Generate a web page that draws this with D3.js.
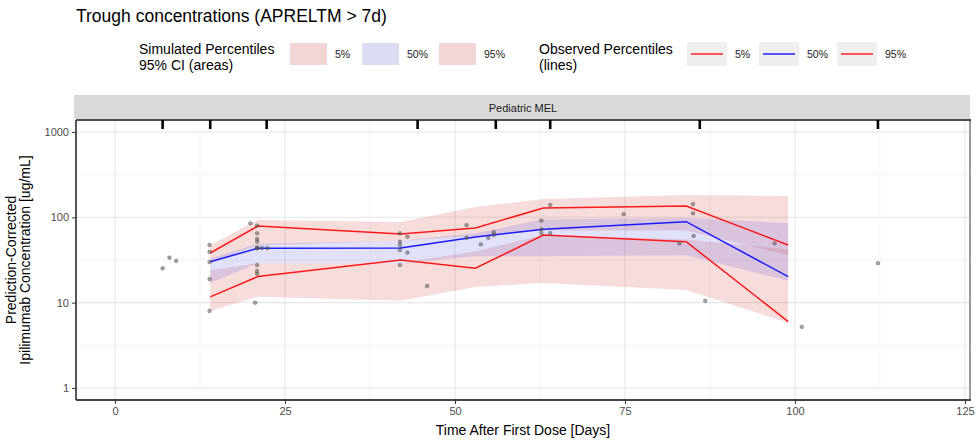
<!DOCTYPE html>
<html><head><meta charset="utf-8">
<script src="https://cdn.jsdelivr.net/npm/d3@7"></script>
<style>
body{margin:0;background:#fff;}
svg{display:block;font-family:"Liberation Sans",Arial,Helvetica,sans-serif;}
</style>
</head><body>
<svg id="c" width="979" height="442"></svg>
<script>
// ---------------- data ----------------
const binTime = [14, 21, 42, 53, 63, 84, 99];
const obsP05 = [11.7, 20.2, 31.6, 25.3, 62.1, 51.8, 6.0];
const obsP50 = [30.2, 43.4, 43.6, 58.9, 72.4, 88.9, 20.2];
const obsP95 = [38.2, 79, 63.8, 75, 128.6, 136, 47.4];

const sim05Lo = [8.0, 11.7, 10.5, 15.3, 17, 14.1, 5.8];
const sim05Hi = [24, 29, 29, 40, 62, 55, 42];
const sim50Lo = [17, 29, 29, 35, 35, 36, 18];
const sim50Hi = [33, 49, 53, 65, 95, 98, 86];
const sim95Lo = [30, 47, 53, 60, 70, 70, 36];
const sim95Hi = [47, 93, 88, 132, 164, 183, 178];

const obsTime = [7.0, 8.0, 9.0,
  13.9, 13.9, 13.9, 13.9, 13.9,
  19.9, 20.9, 20.9, 20.9, 20.9, 20.9, 20.9, 20.9, 21.6, 22.4, 20.9, 20.9, 20.9, 20.6,
  41.9, 43.0, 41.9, 41.9, 41.9, 43.0, 41.9, 45.9,
  51.7, 51.7, 53.8, 54.9, 55.7, 55.7,
  64.0, 62.7, 62.7, 62.7, 64.0,
  74.8,
  85.0, 85.0, 83.0, 85.1, 86.8,
  97.0, 101.0, 112.2];
const obsConc = [25.3, 33.7, 30.8,
  47.4, 39.5, 30.0, 18.9, 8.0,
  85.1, 80, 65, 55.7, 51.8, 43.7, 43.7, 43.7, 43.7, 43.7, 27.6, 23.5, 21.8, 10.0,
  65, 59.3, 51.8, 47.4, 41.4, 38.6, 27.6, 15.7,
  81, 57.6, 48.3, 57.6, 66.9, 62,
  139.5, 91.5, 72.4, 65.4, 65.4,
  109,
  143, 111.3, 49.4, 60.5, 10.5,
  49.4, 5.2, 29];

const doseTime = [7, 14, 22.3, 44.5, 56, 64, 86, 112.2];

const xTicks = [0, 25, 50, 75, 100, 125];
const xMinor = [12.5, 37.5, 62.5, 87.5, 112.5];
const yTicks = [1, 10, 100, 1000];
const yMinor = [Math.pow(10,0.5), Math.pow(10,1.5), Math.pow(10,2.5)];
const xLim = [-5.74, 125.74];
const yLim = [0.723, 1382];

const titleText = "Trough concentrations (APRELTM > 7d)";
const stripText = "Pediatric MEL";
const xTitle = "Time After First Dose [Days]";
const yTitle = ["Prediction-Corrected", "Ipilimumab Concentration [ug/mL]"];
const pctLabels = ["5%", "50%", "95%"];

// ---------------- layout ----------------
const P = {left:76, right:970, top:120, bottom:400};
const pink = "rgba(205,45,45,0.17)";
const blue = "rgba(80,80,225,0.17)";
const pinkKey = "#f2d6d6";
const blueKey = "#dcdcf3";

const svg = d3.select("#c");
const x = d3.scaleLinear().domain(xLim).range([P.left, P.right]);
const y = d3.scaleLog().domain(yLim).range([P.bottom, P.top]);

svg.append("defs").append("clipPath").attr("id","clip")
  .append("rect").attr("x",P.left).attr("y",P.top).attr("width",P.right-P.left).attr("height",P.bottom-P.top);

// title
svg.append("text").attr("x",76).attr("y",22).attr("font-size",17.5).attr("fill","#000").text(titleText);

// legend: simulated
const lg = svg.append("g");
lg.append("text").attr("x",139).attr("y",54).attr("font-size",14).text("Simulated Percentiles");
lg.append("text").attr("x",139).attr("y",70).attr("font-size",14).text("95% CI (areas)");
const simKeyX = [290, 362, 439];
const simKeyCol = [pinkKey, blueKey, pinkKey];
simKeyX.forEach((kx,i)=>{
  lg.append("rect").attr("x",kx).attr("y",43).attr("width",37).attr("height",22).attr("fill",simKeyCol[i]);
  lg.append("text").attr("x",kx+45).attr("y",58).attr("font-size",10.5).attr("fill","#1a1a1a").text(pctLabels[i]);
});
// legend: observed
lg.append("text").attr("x",539).attr("y",54).attr("font-size",14).text("Observed Percentiles");
lg.append("text").attr("x",539).attr("y",70).attr("font-size",14).text("(lines)");
const obsKeyX = [687, 759, 837];
const obsKeyCol = ["#ff2020", "#2020ff", "#ff2020"];
obsKeyX.forEach((kx,i)=>{
  lg.append("rect").attr("x",kx).attr("y",42).attr("width",40).attr("height",24).attr("fill","#efefef");
  lg.append("line").attr("x1",kx+4).attr("x2",kx+36).attr("y1",54).attr("y2",54).attr("stroke",obsKeyCol[i]).attr("stroke-width",1.5);
  lg.append("text").attr("x",kx+48).attr("y",58).attr("font-size",10.5).attr("fill","#1a1a1a").text(pctLabels[i]);
});

// strip
svg.append("rect").attr("x",P.left-2).attr("y",95).attr("width",P.right-P.left+2).attr("height",24).attr("fill","#d9d9d9");
svg.append("text").attr("x",(P.left+P.right)/2).attr("y",111.5).attr("text-anchor","middle")
  .attr("font-size",11).attr("fill","#1a1a1a").text(stripText);

// panel
svg.append("rect").attr("x",P.left).attr("y",P.top).attr("width",P.right-P.left).attr("height",P.bottom-P.top).attr("fill","#fff");
const grid = svg.append("g");
xMinor.forEach(v=>grid.append("line").attr("x1",x(v)).attr("x2",x(v)).attr("y1",P.top).attr("y2",P.bottom).attr("stroke","#f0f0f0").attr("stroke-width",0.8));
yMinor.forEach(v=>grid.append("line").attr("y1",y(v)).attr("y2",y(v)).attr("x1",P.left).attr("x2",P.right).attr("stroke","#f0f0f0").attr("stroke-width",0.8));
xTicks.forEach(v=>grid.append("line").attr("x1",x(v)).attr("x2",x(v)).attr("y1",P.top).attr("y2",P.bottom).attr("stroke","#e6e6e6").attr("stroke-width",1.1));
yTicks.forEach(v=>grid.append("line").attr("y1",y(v)).attr("y2",y(v)).attr("x1",P.left).attr("x2",P.right).attr("stroke","#e6e6e6").attr("stroke-width",1.1));

const plot = svg.append("g").attr("clip-path","url(#clip)");
const band = (lo,hi) => d3.area()
  .x((d,i)=>x(binTime[i])).y0((d,i)=>y(lo[i])).y1((d,i)=>y(hi[i]))(binTime);
plot.append("path").attr("d",band(sim05Lo,sim05Hi)).attr("fill",pink);
plot.append("path").attr("d",band(sim95Lo,sim95Hi)).attr("fill",pink);
plot.append("path").attr("d",band(sim50Lo,sim50Hi)).attr("fill",blue);

const line = vals => d3.line().x((d,i)=>x(binTime[i])).y((d,i)=>y(vals[i]))(binTime);
plot.append("path").attr("d",line(obsP05)).attr("fill","none").attr("stroke","#ff1a1a").attr("stroke-width",1.5);
plot.append("path").attr("d",line(obsP95)).attr("fill","none").attr("stroke","#ff1a1a").attr("stroke-width",1.5);
plot.append("path").attr("d",line(obsP50)).attr("fill","none").attr("stroke","#1a1aff").attr("stroke-width",1.5);

plot.selectAll("circle.pt").data(obsTime).enter().append("circle")
  .attr("cx",(d)=>x(d)).attr("cy",(d,i)=>y(obsConc[i])).attr("r",1.9)
  .attr("fill","#5a5a5a").attr("fill-opacity",0.55).attr("stroke","#333").attr("stroke-opacity",0.45).attr("stroke-width",0.6);

// panel border / axis lines
svg.append("line").attr("x1",P.right).attr("x2",P.right).attr("y1",P.top).attr("y2",P.bottom).attr("stroke","#9a9a9a").attr("stroke-width",2);
svg.append("line").attr("x1",P.left).attr("x2",P.right+1).attr("y1",P.top).attr("y2",P.top).attr("stroke","#111").attr("stroke-width",1.6);
svg.append("line").attr("x1",P.left).attr("x2",P.left).attr("y1",P.top).attr("y2",P.bottom).attr("stroke","#444").attr("stroke-width",1.8);
svg.append("line").attr("x1",P.left).attr("x2",P.right+1).attr("y1",P.bottom).attr("y2",P.bottom).attr("stroke","#444").attr("stroke-width",1.8);

// top rug of dose times
svg.selectAll("line.dose").data(doseTime).enter().append("line")
  .attr("x1",d=>x(d)).attr("x2",d=>x(d)).attr("y1",P.top).attr("y2",P.top+9)
  .attr("stroke","#000").attr("stroke-width",2.6);

// axes
const ax = svg.append("g").attr("transform",`translate(0,${P.bottom})`)
  .call(d3.axisBottom(x).tickValues(xTicks).tickSize(4).tickPadding(3).tickFormat(d3.format("d")));
const ay = svg.append("g").attr("transform",`translate(${P.left},0)`)
  .call(d3.axisLeft(y).tickValues(yTicks).tickSize(4).tickPadding(3).tickFormat(d3.format("d")));
[ax,ay].forEach(g=>{
  g.select(".domain").remove();
  g.selectAll(".tick line").attr("stroke","#333").attr("stroke-width",1);
  g.selectAll(".tick text").attr("fill","#4d4d4d").attr("font-size",11).attr("font-family","Liberation Sans, Arial, sans-serif");
});

// axis titles
svg.append("text").attr("x",(P.left+P.right)/2).attr("y",435).attr("text-anchor","middle").attr("font-size",14).text(xTitle);
yTitle.forEach((t,i)=>{
  svg.append("text").attr("transform",`translate(${16+i*14},${(P.top+P.bottom)/2}) rotate(-90)`)
    .attr("text-anchor","middle").attr("font-size",14).text(t);
});
</script>
</body></html>
